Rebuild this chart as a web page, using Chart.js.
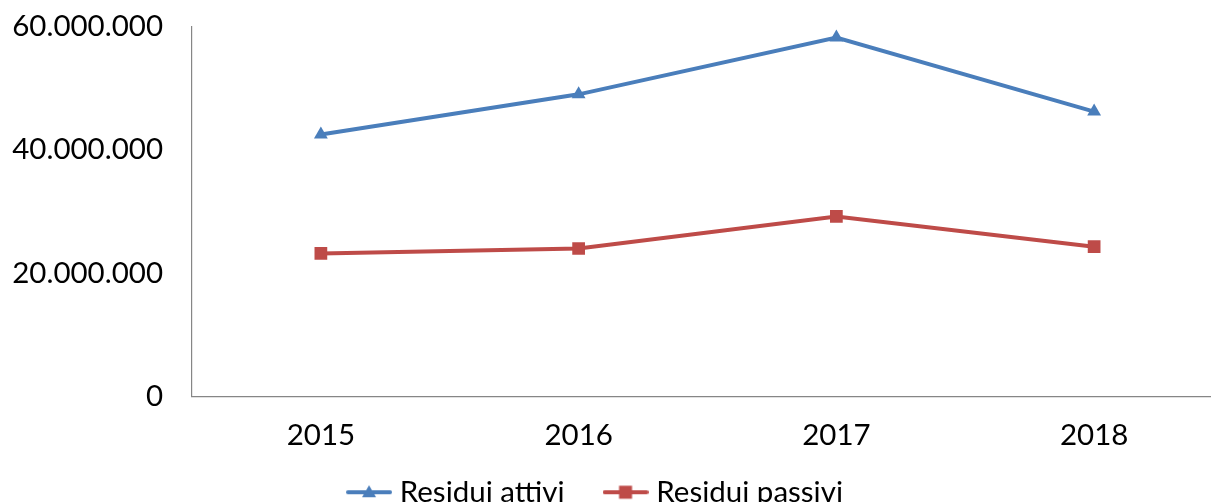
<!DOCTYPE html>
<html>
<head>
<meta charset="utf-8">
<script src="https://cdn.jsdelivr.net/npm/chart.js@4.4.1/dist/chart.umd.min.js"></script>
<style>
  html, body { margin: 0; padding: 0; background: #fff; overflow: hidden; }
  #wrap { width: 1211px; height: 502px; overflow: hidden; position: relative; }
  canvas { display: block; }
</style>
</head>
<body>
<div id="wrap"><canvas id="c" width="1232" height="541"></canvas></div>
<script>
const categories = ['2015', '2016', '2017', '2018'];
const residuiAttivi = [42500000, 49000000, 58200000, 46200000];
const residuiPassivi = [23200000, 24000000, 29200000, 24300000];
const yTicks = [0, 20000000, 40000000, 60000000];
const seriesNames = ['Residui attivi', 'Residui passivi'];

const BLUE = '#4A7EBB';
const RED = '#BE4B48';
const FONT_SIZE = 29.5;

function fmt(v) {
  return String(Math.round(v)).replace(/\B(?=(\d{3})+(?!\d))/g, '.');
}

function legendIcon(color, shape) {
  const c = document.createElement('canvas');
  c.width = 46; c.height = 18;
  const g = c.getContext('2d');
  g.strokeStyle = color; g.lineWidth = 4; g.lineCap = 'round';
  g.beginPath(); g.moveTo(2, 9); g.lineTo(44, 9); g.stroke();
  g.fillStyle = color;
  if (shape === 'triangle') {
    g.beginPath(); g.moveTo(23, 2); g.lineTo(30, 14); g.lineTo(16, 14); g.closePath(); g.fill();
  } else {
    g.fillRect(16.5, 2.5, 13, 13);
  }
  return c;
}

function draw() {
  Chart.defaults.font.family = 'Lato';
  Chart.defaults.color = '#000';
  const icons = [legendIcon(BLUE, 'triangle'), legendIcon(RED, 'rect')];

  const legendShift = {
    id: 'legendShift',
    afterLayout(chart) {
      const lg = chart.legend;
      if (lg) {
        const dx = 598 - (lg.left + lg.right) / 2;
        lg.left += dx; lg.right += dx;
        lg.top -= 24; lg.bottom -= 24;
      }
    }
  };

  new Chart(document.getElementById('c'), {
    type: 'line',
    data: {
      labels: categories,
      datasets: [
        {
          label: seriesNames[0], data: residuiAttivi,
          borderColor: BLUE, backgroundColor: BLUE, borderWidth: 4,
          pointStyle: 'triangle', pointRadius: 8, pointBorderWidth: 0,
          pointBackgroundColor: BLUE, tension: 0, fill: false
        },
        {
          label: seriesNames[1], data: residuiPassivi,
          borderColor: RED, backgroundColor: RED, borderWidth: 4,
          pointStyle: 'rect', pointRadius: 9, pointBorderWidth: 0,
          pointBackgroundColor: RED, tension: 0, fill: false
        }
      ]
    },
    options: {
      responsive: false,
      animation: false,
      layout: { padding: { top: 26.5, left: 0, right: 0, bottom: 0 } },
      plugins: {
        tooltip: { enabled: false },
        legend: {
          position: 'bottom',
          labels: {
            usePointStyle: true,
            pointStyleWidth: 32,
            boxHeight: 18,
            padding: 45,
            font: { size: FONT_SIZE, family: 'Lato' },
            color: '#000',
            generateLabels(chart) {
              return chart.data.datasets.map((ds, i) => ({
                text: ds.label,
                pointStyle: icons[i],
                fillStyle: ds.borderColor,
                strokeStyle: ds.borderColor,
                lineWidth: 0,
                hidden: false,
                datasetIndex: i
              }));
            }
          }
        }
      },
      scales: {
        x: {
          type: 'category',
          offset: true,
          grid: { display: false, drawTicks: false },
          border: { display: true, color: '#868686', width: 1.2 },
          ticks: { padding: 21, font: { size: FONT_SIZE }, color: '#000', maxRotation: 0 },
          afterFit(scale) { scale.height = 60; }
        },
        y: {
          min: 0, max: 60000000,
          grid: { display: false, drawTicks: false },
          border: { display: true, color: '#868686', width: 1.2 },
          afterBuildTicks(scale) { scale.ticks = yTicks.map(v => ({ value: v })); },
          ticks: { padding: 29, font: { size: FONT_SIZE }, color: '#000', callback: v => fmt(v) },
          afterFit(scale) { scale.width = 192; scale.paddingTop = 0; scale.paddingBottom = 0; }
        }
      }
    },
    plugins: [legendShift]
  });
}

if (document.fonts && document.fonts.load) {
  document.fonts.load('29.5px Lato').then(draw, draw);
} else { draw(); }
</script>
</body>
</html>
